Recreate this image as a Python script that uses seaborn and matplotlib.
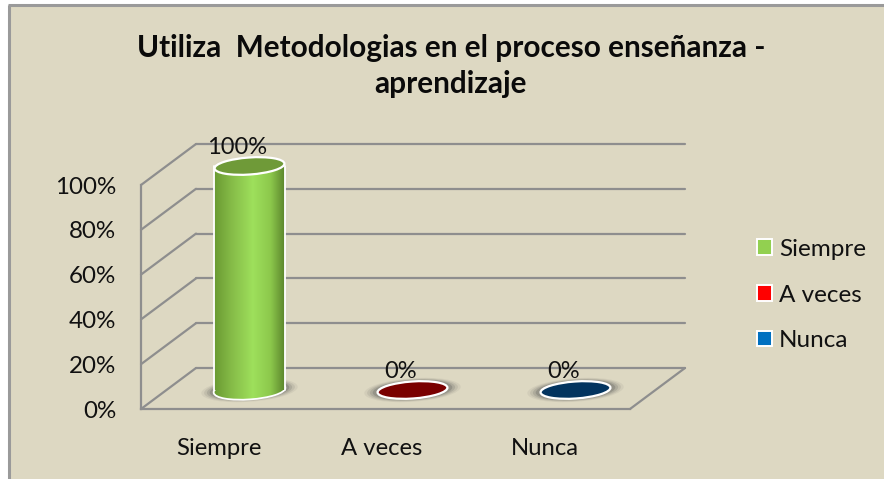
import numpy as np
import pandas as pd
import seaborn as sns
import matplotlib
matplotlib.use("Agg")
import matplotlib.pyplot as plt
from matplotlib.patches import Ellipse, Rectangle
from matplotlib.path import Path
from matplotlib.colors import LinearSegmentedColormap
from matplotlib.transforms import Affine2D, IdentityTransform

categories = ["Siempre", "A veces", "Nunca"]
values = [100, 0, 0]
value_labels = ["100%", "0%", "0%"]
yticks = [0, 20, 40, 60, 80, 100]
title = "Utiliza  Metodologias en el proceso enseñanza -\naprendizaje"

W, H = 884, 479
BG = "#DDD8C2"
GRID = "#8E8E8E"
top_colors = ["#6F9A38", "#7A0000", "#03345F"]
legend_colors = ["#92D050", "#FF0000", "#0070C0"]

sns.set_theme(style="white")
plt.rcParams["font.family"] = ["Lato", "DejaVu Sans"]

fig = plt.figure(figsize=(W / 100, H / 100), dpi=100, facecolor="white")

# panel background with the grey edge on top and left only
panel = fig.add_axes([0, 0, 1, 1])
panel.set_xlim(0, W)
panel.set_ylim(H, 0)
panel.axis("off")
panel.add_patch(Rectangle((9, 5), W, H, fc=BG, ec="none"))
panel.plot([9, 9], [H, 5], color="#9A9A9A", lw=2.2, solid_capstyle="butt")
panel.plot([8, W], [5, 5], color="#9A9A9A", lw=2.2, solid_capstyle="butt")

# front plane of the fake 3d box
x0, x1, y0, y1 = 141, 630, 409, 185
ax = fig.add_axes([x0 / W, 1 - y0 / H, (x1 - x0) / W, (y0 - y1) / H])
ax.patch.set_alpha(0)
df = pd.DataFrame({"cat": categories, "val": values})
sns.barplot(data=df, x="cat", y="val", width=0.43, color="#92D050", ax=ax, zorder=3)
ax.set_ylim(0, 100)
ax.set_xlim(-0.5, 2.5)
ax.set_yticks(yticks)
ax.set_yticklabels([f"{t}%" for t in yticks], fontsize=17.4, color="#111111")
ax.set_xticks(range(3))
ax.set_xticklabels(categories, fontsize=17.2, color="#111111")
ax.tick_params(axis="x", length=0, pad=21)
ax.tick_params(axis="y", length=0, pad=18)
for lab in ax.get_xticklabels():
    lab.set_transform(lab.get_transform() + Affine2D().translate(-4, 0))
ax.set_xlabel("")
ax.set_ylabel("")
for s in ["top", "right"]:
    ax.spines[s].set_visible(False)
for s in ["left", "bottom"]:
    ax.spines[s].set_color(GRID)
    ax.spines[s].set_linewidth(1.6)

# depth of the box, in pixels
dx, dy = 55, 41
ln = dict(color=GRID, lw=1.6, transform=IdentityTransform(), zorder=1, clip_on=False)
for t in yticks:
    xa, ya = ax.transData.transform((-0.5, t))
    xe, _ = ax.transData.transform((2.5, t))
    ax.plot([xa, xa + dx], [ya, ya + dy], **ln)
    ax.plot([xa + dx, xe + dx], [ya + dy, ya + dy], **ln)
xr, yr = ax.transData.transform((2.5, 0))
ax.plot([xr, xr + dx], [yr, yr + dy], **ln)

# bars sit part way back in the box
bar_tr = ax.transData + Affine2D().translate(27, 19)
cyl = LinearSegmentedColormap.from_list(
    "cyl", [(0, "#6A9A32"), (0.25, "#86BC48"), (0.55, "#9EE05C"), (0.8, "#8CC84C"), (1, "#5C862C")])
grad = np.linspace(0, 1, 128).reshape(1, -1)
ell_w, ell_h = 70, 17

def ellipse_tr(x, y, scale=1.0):
    px, py = bar_tr.transform((x, y))
    return Affine2D().scale(scale * ell_w / 2, scale * ell_h / 2).rotate_deg(4).translate(px, py)

def ellipse_at(x, y, scale=1.0, **kw):
    return Ellipse((0, 0), 2, 2, transform=ellipse_tr(x, y, scale), clip_on=False, **kw)

for i, (bar, v) in enumerate(zip(ax.patches, values)):
    bar.set_visible(False)
    xl = bar.get_x()
    xw = bar.get_width()
    xc = xl + xw / 2
    # soft shadow on the floor
    for s, a in [(1.38, 0.08), (1.3, 0.12), (1.22, 0.18), (1.14, 0.28)]:
        ax.add_patch(ellipse_at(xc, 0, s, fc="#555555", ec="none", alpha=a, zorder=2))
    if v > 0:
        # cylinder body: gradient clipped to side rectangle plus bottom cap
        ax.add_patch(ellipse_at(xc, 0, 1.0, fc="none", ec="white", lw=2.6, zorder=3))
        (xa, ya), (xb, yb) = bar_tr.transform([(xl, 0), (xl + xw, v)])
        im = ax.imshow(grad, cmap=cyl, aspect="auto", zorder=4,
                       extent=(xa, xb, ya - ell_h, yb), transform=IdentityTransform())
        rect = Path([(xa, ya), (xb, ya), (xb, yb), (xa, yb), (xa, ya)])
        cap = Path.unit_circle().transformed(ellipse_tr(xc, 0, 1.0))
        im.set_clip_path(Path.make_compound_path(rect, cap), transform=IdentityTransform())
        im.set_clip_box(fig.bbox)
        # white edges of the cylinder
        ax.plot([xl, xl], [0, v], color="white", lw=1.3, transform=bar_tr, zorder=5, clip_on=False)
        ax.plot([xl + xw, xl + xw], [0, v], color="white", lw=1.3, transform=bar_tr, zorder=5, clip_on=False)
    ax.add_patch(ellipse_at(xc, v, 1.0, fc=top_colors[i], ec="white", lw=1.6, zorder=6))
    ax.text(xc, v, value_labels[i], transform=bar_tr + Affine2D().translate(-12, 8),
            ha="center", va="bottom", fontsize=17, color="#111111", zorder=7, clip_on=False)

ax.set_xlim(-0.5, 2.5)
ax.set_ylim(0, 100)

fig.text(451 / W, 1 - 66 / H, title, ha="center", va="center", fontsize=21.4,
         fontweight="bold", color="#0A0A0A", linespacing=1.36)

# legend
handles = [Rectangle((0, 0), 1, 1, fc=c, ec="white", lw=1.4) for c in legend_colors]
fig.legend(handles, categories, loc="center left", bbox_to_anchor=(757 / W, 1 - 295 / H),
           frameon=False, fontsize=17.5, labelcolor="#111111", handlelength=0.6, handleheight=0.6,
           handletextpad=0.3, labelspacing=1.02, borderpad=0, borderaxespad=0)

fig.savefig("out.png", dpi=100, facecolor=fig.get_facecolor())
